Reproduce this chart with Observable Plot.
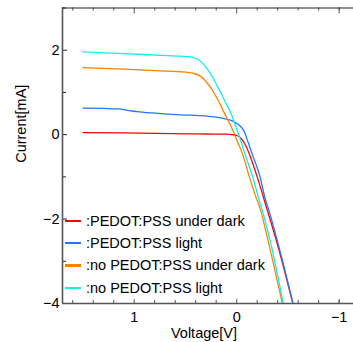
<!DOCTYPE html>
<html>
<head>
<meta charset="utf-8">
<script src="https://cdn.jsdelivr.net/npm/d3@7"></script>
<script src="https://cdn.jsdelivr.net/npm/@observablehq/plot@0.6"></script>
<style>
  html, body { margin: 0; padding: 0; background: #fff; overflow: hidden; }
  #wrap { position: relative; width: 353px; height: 342px; font-family: "Liberation Sans", Arial, sans-serif; }
  #legend { position: absolute; left: 65px; top: 210px; font-size: 14.5px; color: #000; }
  .row { display: flex; align-items: center; height: 22.2px; }
  .sw { width: 16px; height: 2.2px; margin-right: 5px; }
</style>
</head>
<body>
<div id="wrap"><div id="legend"></div></div>
<script>
// Series names and colours
const seriesNames = [":PEDOT:PSS under dark", ":PEDOT:PSS light", ":no PEDOT:PSS under dark", ":no PEDOT:PSS light"];
const seriesColors = ["#ff0000", "#1f78ff", "#ff8000", "#10eeee"];

// PEDOT:PSS under dark
const voltRed = [1.5, 1.1, 0.8, 0.5, 0.3, 0.1, 0.04, 0.0, -0.04, -0.09, -0.13, -0.2, -0.3, -0.4, -0.548];
const currRed = [0.05, 0.04, 0.03, 0.02, 0.015, 0.01, 0.0, -0.02, -0.08, -0.27, -0.5, -1.0, -1.8, -2.62, -4.0];

// PEDOT:PSS light
const voltBlue = [1.5, 1.3, 1.15, 1.05, 0.95, 0.74, 0.55, 0.35, 0.22, 0.10, 0.05, 0.01, -0.03, -0.056, -0.08, -0.10, -0.15, -0.22, -0.283, -0.315, -0.40, -0.55];
const currBlue = [0.63, 0.62, 0.61, 0.57, 0.54, 0.50, 0.47, 0.45, 0.42, 0.37, 0.33, 0.28, 0.21, 0.14, 0.04, -0.10, -0.45, -0.93, -1.56, -1.80, -2.55, -4.0];

// no PEDOT:PSS under dark
const voltOrange = [1.5, 1.1, 0.74, 0.55, 0.42, 0.35, 0.30, 0.25, 0.22, 0.17, 0.12, 0.07, 0.03, 0.0, -0.056, -0.12, -0.18, -0.234, -0.31, -0.446];
const currOrange = [1.59, 1.55, 1.51, 1.49, 1.45, 1.38, 1.26, 1.10, 0.98, 0.76, 0.51, 0.27, 0.06, -0.12, -0.45, -0.97, -1.42, -1.80, -2.55, -4.0];

// no PEDOT:PSS light
const voltCyan = [1.5, 1.1, 0.74, 0.55, 0.45, 0.40, 0.36, 0.32, 0.28, 0.24, 0.20, 0.15, 0.10, 0.05, 0.0, -0.05, -0.10, -0.15, -0.22, -0.25, -0.33, -0.455];
const currCyan = [1.96, 1.92, 1.88, 1.86, 1.84, 1.81, 1.75, 1.66, 1.53, 1.38, 1.20, 0.97, 0.72, 0.47, 0.13, -0.22, -0.60, -0.95, -1.56, -1.80, -2.55, -4.0];

// Axis ticks
const xMajor = [1, 0, -1];
const xMinor = [1.6, 1.4, 1.2, 0.8, 0.6, 0.4, 0.2, -0.2, -0.4, -0.6, -0.8, -1.0];
const yMajor = [2, 0, -2, -4];
const yMinor = [3, 1, -1, -3];

const allV = [voltRed, voltBlue, voltOrange, voltCyan];
const allI = [currRed, currBlue, currOrange, currCyan];
const rows = [];
allV.forEach((vs, s) => vs.forEach((v, i) => rows.push({series: seriesNames[s], v, i: allI[s][i]})));

const fmt = d => d < 0 ? "\u2212" + Math.abs(d) : String(d);
const axisColor = "#555";

const W = 353, H = 342, mL = 62, mR = 0, mT = 7.5, mB = 39;
const plotW = W - mL - mR, plotH = H - mT - mB;

const chart = Plot.plot({
  width: W,
  height: H,
  marginLeft: mL,
  marginRight: mR,
  marginTop: mT,
  marginBottom: mB,
  style: {fontFamily: "'Liberation Sans', Arial, sans-serif", fontSize: "14.5px", color: "#000", background: "#fff", overflow: "visible"},
  x: {domain: [1.7, -1.14]},
  y: {domain: [-4, 3]},
  color: {domain: seriesNames, range: seriesColors},
  marks: [
    Plot.line(rows, {x: "v", y: "i", z: "series", stroke: "series", strokeWidth: 1.3, curve: "monotone-x", clip: true}),
    // inward ticks (bottom / top)
    Plot.tickX(xMinor, {x: d => d, insetTop: plotH - 3, stroke: axisColor}),
    Plot.tickX(xMajor, {x: d => d, insetTop: plotH - 4, stroke: axisColor}),
    Plot.tickX(xMinor, {x: d => d, insetBottom: plotH - 3, stroke: axisColor}),
    Plot.tickX(xMajor, {x: d => d, insetBottom: plotH - 6, stroke: axisColor}),
    // inward ticks (left)
    Plot.tickY(yMinor, {y: d => d, insetRight: plotW - 4, stroke: "#222"}),
    Plot.tickY(yMajor, {y: d => d, insetRight: plotW - 5, stroke: "#222"}),
    // frame lines
    Plot.ruleX([1.7], {stroke: axisColor, strokeWidth: 1.6}),
    Plot.ruleY([-4], {stroke: axisColor, strokeWidth: 1.6}),
    Plot.ruleY([3], {stroke: "#222", strokeWidth: 1.2}),
    // tick labels
    Plot.axisX({anchor: "bottom", ticks: xMajor, tickSize: 0, tickPadding: 8, tickFormat: fmt, label: null}),
    Plot.axisY({anchor: "left", ticks: yMajor, tickSize: 0, tickPadding: 3, tickFormat: fmt, label: null}),
    // axis titles
    Plot.text(["Voltage[V]"], {frameAnchor: "bottom", text: d => d, textAnchor: "middle", dx: -4, dy: 29.5, lineAnchor: "middle"}),
    Plot.text(["Current[mA]"], {frameAnchor: "left", text: d => d, textAnchor: "middle", rotate: -90, dx: -41.5, dy: -32, lineAnchor: "middle"})
  ]
});

const wrap = document.getElementById("wrap");
wrap.insertBefore(chart, wrap.firstChild);

const legend = document.getElementById("legend");
seriesNames.forEach((name, k) => {
  const row = document.createElement("div");
  row.className = "row";
  const sw = document.createElement("div");
  sw.className = "sw";
  sw.style.background = seriesColors[k];
  const tx = document.createElement("span");
  tx.textContent = name;
  row.appendChild(sw);
  row.appendChild(tx);
  legend.appendChild(row);
});
</script>
</body>
</html>
